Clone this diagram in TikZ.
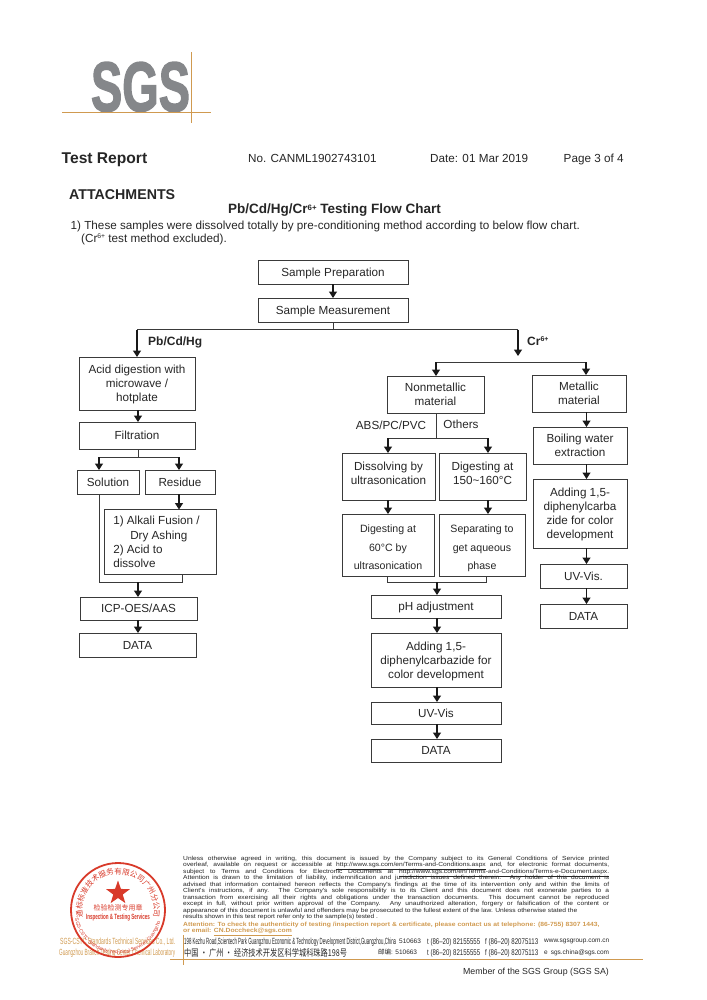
\documentclass[tikz,border=0pt]{standalone}
\usepackage{fontspec}
\setmainfont{Liberation Sans}
\newfontfamily\cjk{Noto Sans CJK SC}
\newfontfamily\logofont[FakeBold=2.2]{Liberation Sans Bold}
\newfontfamily\legalfont[FakeStretch=1.13]{Liberation Sans}
\usetikzlibrary{arrows.meta,shapes.geometric,decorations.text}
\definecolor{sgsgold}{HTML}{D09A50}
\definecolor{sgsgray}{HTML}{85878A}
\definecolor{sgsred}{HTML}{D83A2A}
\definecolor{inkline}{HTML}{3A3A3A}
\tikzset{>={Triangle[width=8bp,length=6.5bp]}}
\newcommand{\tail}{\\[-8bp]\mbox{}}
\newcommand{\lead}{\mbox{}\\[-6.7bp]}
\newcommand{\crsup}{\raisebox{3.6bp}{\scalebox{.58}{6+}}}
\newcommand{\ulink}[1]{\smash{\underline{#1}}}
\newcommand{\cond}[2]{\resizebox{#1}{6bp}{#2}}

\begin{document}
\begin{tikzpicture}[x=1bp,y=-1bp]
  \tikzstyle{cbox} = [draw=inkline, line width=0.9bp, inner sep=0pt, outer sep=0pt, align=center, text=black!85, text depth=0pt, font=\fontsize{11.7bp}{14bp}\selectfont]
  \tikzstyle{wide} = [cbox, font=\fontsize{10.6bp}{18.7bp}\selectfont]
  \tikzstyle{txt} = [inner sep=0pt, anchor=west, text=black!85, text depth=0pt, font=\fontsize{11.7bp}{14bp}\selectfont]
  \tikzstyle{arr} = [->, line width=1.2bp, black!90]
  \tikzstyle{lin} = [line width=0.9bp, inkline]
  \tikzstyle{fine} = [inner sep=0pt, anchor=north west, text=black!85, font=\legalfont\fontsize{5.9bp}{6.44bp}\selectfont]
  \useasboundingbox (0,0) rectangle (707,1000);

  % header
  \node[inner sep=0pt, text=sgsgray, anchor=south] (logo) at (140.5,112) {\resizebox{99bp}{49bp}{\logofont SGS}};
  \coordinate (ruleh) at (62,112);
  \coordinate (ruleend) at (211,112);
  \coordinate (rulev) at (191,52);
  \coordinate (rulevend) at (191,123);
  \draw[sgsgold, line width=0.8bp] (ruleh) -- (ruleend);
  \draw[sgsgold, line width=0.8bp] (rulev) -- (rulevend);
  \node[txt, font=\fontsize{15.6bp}{18bp}\bfseries] (report) at (61.5,158) {Test Report};
  \node[txt] (repno) at (248,158) {No. CANML1902743101};
  \node[txt] (repdate) at (430,158) {Date: 01 Mar 2019};
  \node[txt] (reppage) at (563.5,158) {Page 3 of 4};
  \node[txt, font=\fontsize{14.2bp}{16bp}\bfseries] (attach) at (69,195) {ATTACHMENTS};
  \node[txt, font=\fontsize{13.5bp}{16bp}\bfseries] (title) at (228,209) {Pb/Cd/Hg/Cr\crsup{} Testing Flow Chart};
  \node[txt] (note) at (70.5,225) {1) These samples were dissolved totally by pre-conditioning method according to below flow chart.};
  \node[txt] (notecr) at (81,238) {(Cr\crsup{} test method excluded).};

  % common part
  \node[cbox, minimum width=150bp, minimum height=24bp] (prep) at (333,272) {Sample Preparation};
  \node[cbox, minimum width=150bp, minimum height=24bp] (meas) at (333,310) {Sample Measurement};
  \coordinate (jtop) at (333,329.5);
  \coordinate (jpb) at (137,329.5);
  \coordinate (jcr) at (518,329.5);
  \draw[arr] (prep) -- (meas);
  \draw[lin] (meas) -- (jtop);
  \draw[lin] (jpb) -- (jcr);

  % Pb/Cd/Hg
  \node[cbox, minimum width=116bp, minimum height=53bp] (acid) at (137,383.5) {Acid digestion with\\microwave /\\hotplate};
  \node[cbox, minimum width=116bp, minimum height=27bp] (filt) at (137,435.5) {Filtration};
  \node[cbox, minimum width=62bp, minimum height=24bp] (soln) at (108,482) {Solution};
  \node[cbox, minimum width=70bp, minimum height=24bp] (resd) at (180,482) {Residue};
  \node[cbox, minimum width=112bp, minimum height=65bp, align=left, font=\fontsize{11.7bp}{14.3bp}\selectfont] (alka) at (160,542) {1) Alkali Fusion /\rule{7bp}{0pt}\\\hspace*{17bp}Dry Ashing\\2) Acid to\\dissolve};
  \node[cbox, minimum width=117bp, minimum height=23bp] (icp) at (138.5,608.5) {ICP-OES/AAS};
  \node[cbox, minimum width=117bp, minimum height=24bp] (data) at (137.5,645) {DATA};
  \node[txt, font=\fontsize{12bp}{14bp}\bfseries] (lpb) at (148,341) {Pb/Cd/Hg};
  \coordinate (jf) at (138,457);
  \coordinate (jfl) at (99,457);
  \coordinate (jfr) at (179,457);
  \coordinate (jsl) at (99,582);
  \coordinate (jsr) at (182,582);
  \coordinate (jsm) at (138,582);
  \draw[arr] (jpb) -- (jpb |- acid.north);
  \draw[arr] (acid.south -| jf) -- (filt.north -| jf);
  \draw[lin] (filt.south -| jf) -- (jf);
  \draw[lin] (jfl) -- (jfr);
  \draw[arr] (jfl) -- (jfl |- soln.north);
  \draw[arr] (jfr) -- (jfr |- resd.north);
  \draw[arr] (resd.south -| jfr) -- (alka.north -| jfr);
  \draw[lin] (jsl |- soln.south) -- (jsl) -- (jsr) -- (jsr |- alka.south);
  \draw[arr] (jsm) -- (jsm |- icp.north);
  \draw[arr] (icp.south -| jsm) -- (data.north -| jsm);

  % Cr6+
  \node[txt, font=\fontsize{12bp}{14bp}\bfseries] (lcr) at (527,341) {Cr\crsup};
  \coordinate (crend) at (518,356);
  \coordinate (jnl) at (436,362);
  \coordinate (jnr) at (586,362);
  \draw[arr] (jcr) -- (crend);
  \draw[lin] (jnl) -- (jnr);
  \node[cbox, minimum width=97bp, minimum height=37bp] (nonm) at (435.5,394.5) {Nonmetallic\\material};
  \node[cbox, minimum width=94bp, minimum height=37bp] (metl) at (579,393.5) {Metallic\\material};
  \draw[arr] (jnl) -- (jnl |- nonm.north);
  \draw[arr] (jnr) -- (jnr |- metl.north);

  % nonmetallic branch
  \node[txt, anchor=center] (labs) at (391,425) {ABS/PC/PVC};
  \node[txt, anchor=center] (loth) at (461,424) {Others};
  \node[cbox, minimum width=93bp, minimum height=47bp] (diss) at (388.5,476.5) {Dissolving by\\ultrasonication\tail};
  \node[cbox, minimum width=87bp, minimum height=47bp] (dig) at (482.5,476.5) {Digesting at\\150\textasciitilde160°C\tail};
  \node[wide, minimum width=92bp, minimum height=62bp] (dsix) at (388,545) {\lead Digesting at\\60°C by\\ultrasonication};
  \node[wide, minimum width=86bp, minimum height=62bp] (sepr) at (482,545) {\lead Separating to\\get aqueous\\phase};
  \node[cbox, minimum width=130bp, minimum height=23bp] (phad) at (436,606.5) {pH adjustment};
  \node[cbox, minimum width=130bp, minimum height=54bp] (addn) at (436,660) {Adding 1,5-\\diphenylcarbazide for\\color development};
  \node[cbox, minimum width=130bp, minimum height=22bp] (uvvn) at (436,713) {UV-Vis};
  \node[cbox, minimum width=130bp, minimum height=23bp] (datn) at (436,750.5) {DATA};
  \coordinate (jo) at (436,438);
  \coordinate (jol) at (388,438);
  \coordinate (jor) at (488,438);
  \coordinate (jul) at (387,582);
  \coordinate (jur) at (486,582);
  \coordinate (jum) at (437,582);
  \draw[lin] (jo |- nonm.south) -- (jo);
  \draw[lin] (jol) -- (jor);
  \draw[arr] (jol) -- (jol |- diss.north);
  \draw[arr] (jor) -- (jor |- dig.north);
  \draw[arr] (diss.south -| jol) -- (dsix.north -| jol);
  \draw[arr] (dig.south -| jor) -- (sepr.north -| jor);
  \draw[lin] (jul |- dsix.south) -- (jul) -- (jur) -- (jur |- sepr.south);
  \draw[arr] (jum) -- (jum |- phad.north);
  \draw[arr] (phad.south -| jum) -- (addn.north -| jum);
  \draw[arr] (addn.south -| jum) -- (uvvn.north -| jum);
  \draw[arr] (uvvn.south -| jum) -- (datn.north -| jum);

  % metallic branch
  \node[cbox, minimum width=94bp, minimum height=37bp] (boil) at (580,445.5) {Boiling water\\extraction};
  \node[cbox, minimum width=94bp, minimum height=69bp] (addm) at (580,513.5) {Adding 1,5-\\diphenylcarba\\zide for color\\development};
  \node[cbox, minimum width=87bp, minimum height=24bp] (uvvm) at (583.5,576) {UV-Vis.};
  \node[cbox, minimum width=87bp, minimum height=24bp] (datm) at (583.5,616) {DATA};
  \coordinate (jm) at (586.5,420);
  \draw[arr] (metl.south -| jm) -- (boil.north -| jm);
  \draw[arr] (boil.south -| jm) -- (addm.north -| jm);
  \draw[arr] (addm.south -| jm) -- (uvvm.north -| jm);
  \draw[arr] (uvvm.south -| jm) -- (datm.north -| jm);

  % footer text
  \node[fine, text width=426bp, align=justify] (legal) at (183,856) {Unless otherwise agreed in writing, this document is issued by the Company subject to its General Conditions of Service printed\linebreak overleaf, available on request or accessible at \ulink{http://www.sgs.com/en/Terms-and-Conditions.aspx} and, for electronic format documents,\linebreak subject to Terms and Conditions for Electronic Documents at \ulink{http://www.sgs.com/en/Terms-and-Conditions/Terms-e-Document.aspx.}\linebreak Attention is drawn to the limitation of liability, indemnification and jurisdiction issues defined therein. Any holder of this document is\linebreak advised that information contained hereon reflects the Company's findings at the time of its intervention only and within the limits of\linebreak Client's instructions, if any. The Company's sole responsibility is to its Client and this document does not exonerate parties to a\linebreak transaction from exercising all their rights and obligations under the transaction documents. This document cannot be reproduced\linebreak except in full, without prior written approval of the Company. Any unauthorized alteration, forgery or falsification of the content or\linebreak appearance of this document is unlawful and offenders may be prosecuted to the fullest extent of the law. Unless otherwise stated the\\ results shown in this test report refer only to the sample(s) tested .};
  \node[fine, text width=426bp, align=justify, text=sgsgold, font=\legalfont\fontsize{6bp}{6.44bp}\bfseries] (attn) at (183,922) {Attention: To check the authenticity of testing /inspection report \& certificate, please contact us at telephone: (86-755) 8307 1443,\\ or email: \ulink{CN.Doccheck@sgs.com}};
  \node[txt] (addr) at (184,941) {\resizebox{212bp}{6.5bp}{198 Kezhu Road,Scientech Park Guangzhou Economic \& Technology Development District,Guangzhou,China}};
  \node[txt] (cnad) at (184,952) {\resizebox{163bp}{8bp}{\cjk 中国 · 广州 · 经济技术开发区科学城科珠路198号}};
  \node[txt, font=\fontsize{6.5bp}{8bp}\selectfont] (zipa) at (399,941) {510663};
  \node[txt, font=\fontsize{6.5bp}{8bp}\selectfont] (zipb) at (378,952) {{\cjk 邮编:} 510663};
  \node[txt] (tela) at (427,941) {\cond{53bp}{t (86--20) 82155555}};
  \node[txt] (telb) at (427,952) {\cond{53bp}{t (86--20) 82155555}};
  \node[txt] (faxa) at (485,941) {\cond{53bp}{f (86--20) 82075113}};
  \node[txt] (faxb) at (485,952) {\cond{53bp}{f (86--20) 82075113}};
  \node[txt, font=\fontsize{6.5bp}{8bp}\selectfont] (weba) at (544,941) {www.sgsgroup.com.cn};
  \node[txt, font=\fontsize{6.5bp}{8bp}\selectfont] (webb) at (544,952) {e\hspace{3bp}sgs.china@sgs.com};
  \coordinate (ftl) at (170,959);
  \coordinate (ftr) at (643,959);
  \coordinate (fvt) at (183,935);
  \coordinate (fvb) at (183,965);
  \draw[sgsgold, line width=0.8bp] (ftl) -- (ftr);
  \draw[sgsgold, line width=0.8bp] (fvt) -- (fvb);
  \node[txt, anchor=east, font=\fontsize{8.8bp}{10bp}\selectfont] (member) at (609,971) {Member of the SGS Group (SGS SA)};

  % stamp
  \node[txt, text=sgsgold] (cstca) at (60,941) {\resizebox{115bp}{6.5bp}{SGS-CSTC Standards Technical Services Co., Ltd.}};
  \node[txt, text=sgsgold] (cstcb) at (59,952) {\resizebox{116bp}{6.5bp}{Guangzhou Branch Testing Center Chemical Laboratory}};
  \coordinate (seal) at (118,910);
  \node[circle, draw=sgsred, line width=1.8bp, minimum size=94bp, inner sep=0pt] (ring) at (seal) {};
  \node[star, star points=5, star point ratio=2.5, fill=sgsred, minimum size=25bp, inner sep=0pt] (sealstar) at (118,893) {};
  \node[inner sep=0pt, text=sgsred] (sealcn) at (118,908) {\cjk\fontsize{7bp}{8bp}\selectfont 检验检测专用章};
  \node[inner sep=0pt, text=sgsred] (sealen) at (118,918) {\resizebox{64bp}{5.5bp}{\bfseries Inspection \& Testing Services}};
  \path[decorate, decoration={text along path, text align=center, text color=sgsred, text={|\cjk\fontsize{7.5bp}{8bp}\selectfont|通标标准技术服务有限公司广州分公司}}] ([shift={(195:36bp)}]seal) arc[start angle=195, end angle=-15, radius=36bp];
  \path[decorate, decoration={text along path, text align=center, text color=sgsred, text={|\fontsize{5bp}{6bp}\selectfont|SGS-CSTC Standards Technical Services Guangzhou}}] ([shift={(195:44bp)}]seal) arc[start angle=195, end angle=345, radius=44bp];
\end{tikzpicture}
\end{document}
